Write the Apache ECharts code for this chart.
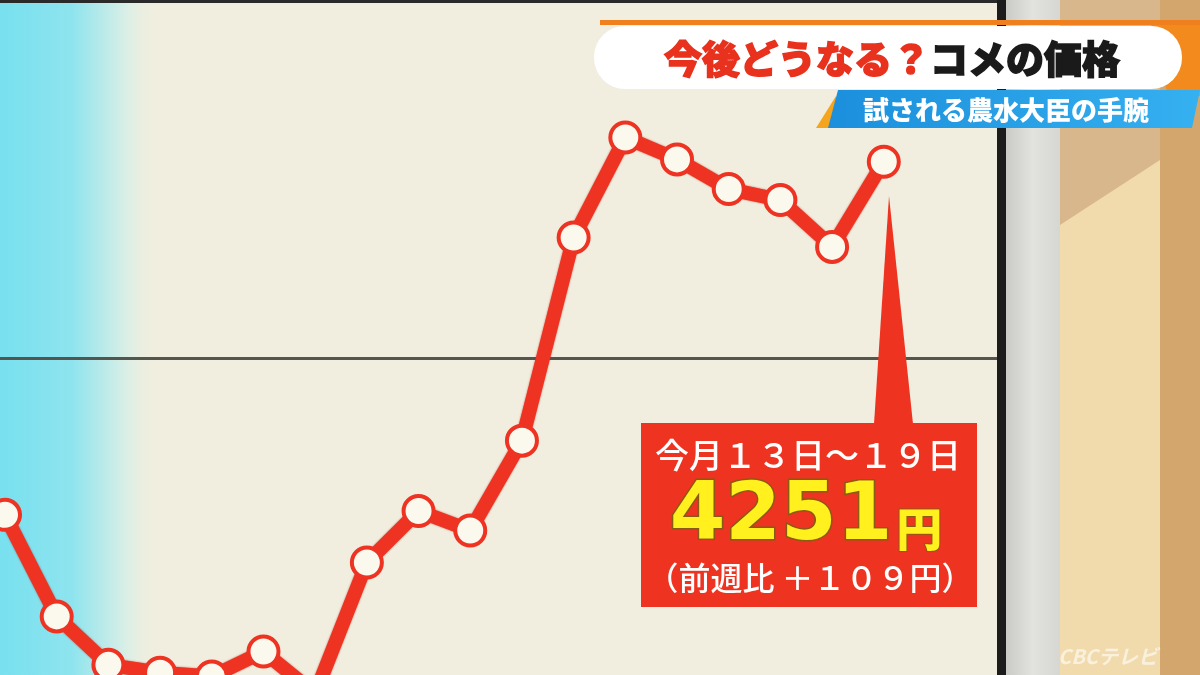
<!DOCTYPE html>
<html><head><meta charset="utf-8">
<script src="https://cdn.jsdelivr.net/npm/echarts@6/dist/echarts.min.js"></script>
<style>html,body{margin:0;padding:0;background:#f1eedf}#c{width:1200px;height:675px}</style>
</head><body><div id="c"></div>
<script>
// weekly average supermarket price of rice (5kg, yen)
const weeks = ['6/16〜22','6/23〜29','6/30〜7/6','7/7〜13','7/14〜20','7/21〜27','7/28〜8/3','8/4〜10','8/11〜17','8/18〜24','8/25〜31','9/1〜7','9/8〜14','9/15〜21','9/22〜28','9/29〜10/5','10/6〜12','10/13〜19'];
const prices = [3799, 3669, 3607, 3597, 3592, 3624, 3570, 3738, 3804, 3779, 3894, 4154, 4282, 4254, 4216, 4202, 4142, 4251];
const refLine = [4000];
const titleRed = '今後どうなる？';
const titleBlack = 'コメの価格';
const subtitle = '試される農水大臣の手腕';
const calloutPeriod = '今月１３日～１９日';
const calloutValue = '4251';
const calloutUnit = '円';
const calloutDiff = '（前週比 ＋１０９円）';

const chart = echarts.init(document.getElementById('c'));
const F = '"Noto Sans CJK JP", "Noto Sans", sans-serif';
chart.setOption({
  animation: false,
  backgroundColor: '#f1eedf',
  grid: { left: 0, top: 0, right: 203, bottom: 0 },
  xAxis: { type: 'value', min: -0.097, max: 19.19, show: false },
  yAxis: { type: 'value', min: 3594, max: 4458, show: false, splitLine: { show: false } },
  graphic: [
    { type: 'rect', z: -5, shape: { x: 0, y: 0, width: 160, height: 675 },
      style: { fill: new echarts.graphic.LinearGradient(0, 0, 1, 0, [
        { offset: 0, color: '#78e0ef' }, { offset: 0.45, color: '#8ee4ee' },
        { offset: 0.8, color: '#dcefe6' }, { offset: 1, color: 'rgba(241,238,223,0)' }]) } },
    { type: 'rect', z: -5, shape: { x: 0, y: 0, width: 1005, height: 3 }, style: { fill: '#2a2a2a' } },
    { type: 'rect', z: -5, shape: { x: 1005, y: 0, width: 55, height: 675 },
      style: { fill: new echarts.graphic.LinearGradient(0, 0, 1, 0, [
        { offset: 0, color: '#c9c9c5' }, { offset: 0.5, color: '#e2e2de' }, { offset: 1, color: '#d6d6d2' }]) } },
    { type: 'rect', z: -4, shape: { x: 997, y: 0, width: 9, height: 675 }, style: { fill: '#1c1c1c' } },
    { type: 'rect', z: -5, shape: { x: 1060, y: 0, width: 100, height: 675 }, style: { fill: '#f1dbad' } },
    { type: 'polygon', z: -5, shape: { points: [[1060, 0], [1160, 0], [1160, 160], [1060, 225]] }, style: { fill: '#d9b78d' } },
    { type: 'rect', z: -5, shape: { x: 1160, y: 0, width: 40, height: 675 }, style: { fill: '#d2a66c' } },
    { type: 'polygon', z: 50, shape: { points: [[1150, 20], [1200, 20], [1200, 96], [1168, 96]] }, style: { fill: '#f28a1e' } },
    { type: 'rect', z: 50, shape: { x: 600, y: 20, width: 600, height: 5 }, style: { fill: '#f0801e' } },
    { type: 'rect', z: 51, shape: { x: 594, y: 26, width: 588, height: 63, r: 31 }, style: { fill: '#ffffff' } },
    { type: 'text', z: 52, x: 892, y: 59, style: {
        text: '{r|' + titleRed + '}{k|' + titleBlack + '}', align: 'center', verticalAlign: 'middle',
        rich: { r: { fill: '#e8321e', fontSize: 38, fontWeight: 900, fontFamily: F, stroke: '#e8321e', lineWidth: 1.5 },
                k: { fill: '#1a1a1a', fontSize: 38, fontWeight: 900, fontFamily: F, stroke: '#1a1a1a', lineWidth: 1.5 } } } },
    { type: 'polygon', z: 50, shape: { points: [[816, 128], [836, 96], [842, 128]] }, style: { fill: '#f5a41e' } },
    { type: 'polygon', z: 51, shape: { points: [[838, 90], [1200, 90], [1192, 128], [828, 128]] },
      style: { fill: new echarts.graphic.LinearGradient(0, 0, 1, 0, [
        { offset: 0, color: '#1b8fdc' }, { offset: 1, color: '#35b0f0' }]) } },
    { type: 'text', z: 52, x: 1006, y: 110, style: { text: subtitle, align: 'center', verticalAlign: 'middle',
        fill: '#ffffff', fontSize: 26, fontWeight: 900, fontFamily: F } },
    { type: 'polygon', z: 60, shape: { points: [[889, 196], [913, 424], [874, 424]] }, style: { fill: '#ee3320' } },
    { type: 'rect', z: 60, shape: { x: 641, y: 423, width: 336, height: 184 }, style: { fill: '#ee3320' } },
    { type: 'text', z: 61, x: 808, y: 455, style: { text: calloutPeriod, align: 'center', verticalAlign: 'middle',
        fill: '#ffffff', fontSize: 34, fontWeight: 500, fontFamily: F } },
    { type: 'text', z: 61, x: 806, y: 518, style: {
        text: '{n|' + calloutValue + '}{u|' + calloutUnit + '}', align: 'center', verticalAlign: 'middle',
        rich: { n: { fill: '#fff01e', fontSize: 80, fontWeight: 'bold', fontFamily: '"DejaVu Sans", sans-serif',
                     stroke: '#8a5a10', lineWidth: 3, verticalAlign: 'bottom' },
                u: { fill: '#fff01e', fontSize: 46, fontWeight: 900, fontFamily: F,
                     stroke: '#8a5a10', lineWidth: 2, verticalAlign: 'bottom', padding: [0, 0, 6, 4] } } } },
    { type: 'text', z: 61, x: 810, y: 578, style: { text: calloutDiff, align: 'center', verticalAlign: 'middle',
        fill: '#ffffff', fontSize: 32, fontWeight: 500, fontFamily: F } },
    { type: 'text', z: 30, x: 1108, y: 656, style: { text: 'CBCテレビ', align: 'center', verticalAlign: 'middle',
        fill: 'rgba(255,255,255,0.6)', fontSize: 20, fontWeight: 'bold', fontStyle: 'italic', fontFamily: F } }
  ],
  series: [{
    type: 'line',
    name: 'コメの価格',
    data: prices.map((v, i) => [i, v]),
    clip: false,
    z: 10,
    lineStyle: { color: '#ee3322', width: 14, shadowColor: 'rgba(160,20,10,0.6)', shadowBlur: 2 },
    symbol: 'circle',
    symbolSize: 30,
    itemStyle: { color: '#fbf9ee', borderColor: '#ee3322', borderWidth: 4 },
    markLine: {
      silent: true, symbol: 'none', label: { show: false }, z: 1,
      lineStyle: { color: '#555550', width: 3, type: 'solid' },
      data: refLine.map(v => ({ yAxis: v }))
    }
  }]
});
</script></body></html>
